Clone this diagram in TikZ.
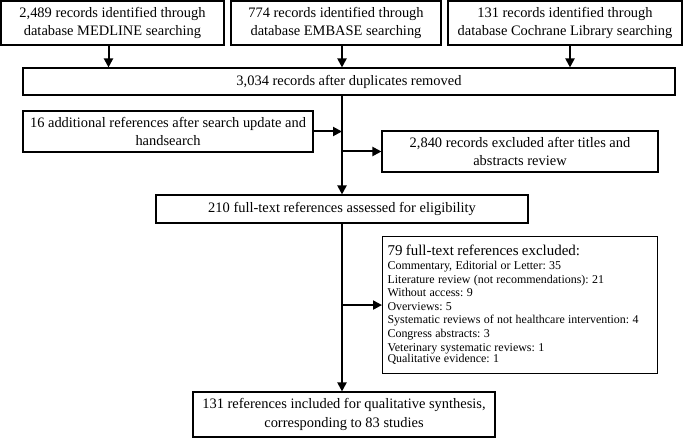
\documentclass[tikz,border=0pt]{standalone}
\usepackage{fontspec}
\setmainfont{Liberation Serif}
\usetikzlibrary{arrows.meta,positioning}

\tikzset{
  boite/.style={draw, line width=1.1bp, align=center, inner sep=0pt,
    font=\fontsize{14.5}{18.5}\selectfont},
  fleche/.style={line width=2bp, -{Triangle[length=9bp,width=9bp]}},
}

\begin{document}
\frenchspacing
\begin{tikzpicture}[x=1bp, y=-1bp]
  \useasboundingbox (0,0) rectangle (685,438);

  % Sources
  \node[boite, minimum width=223bp, minimum height=44bp] (medline) at (112.5,23)
    {2,489 records identified through\\database MEDLINE searching};
  \node[boite, minimum width=210bp, minimum height=44bp] (embase) at (336,23)
    {774 records identified through\\database EMBASE searching};
  \node[boite, minimum width=234bp, minimum height=44bp] (cochrane) at (565,23)
    {131 records identified through\\database Cochrane Library searching};

  % Doublons
  \node[boite, minimum width=652bp, minimum height=27bp] (doublons) at (349,81.5)
    {3,034 records after duplicates removed};

  % Tri
  \node[boite, minimum width=290bp, minimum height=41bp] (ajout) at (168,131.5)
    {16 additional references after search update and\\handsearch};
  \node[boite, minimum width=276bp, minimum height=41bp] (exclus) at (520,151.5)
    {2,840 records excluded after titles and\\abstracts review};
  \node[boite, minimum width=372bp, minimum height=28bp] (eligible) at (342,209)
    {210 full-text references assessed for eligibility};

  % Exclusions
  \node[draw, line width=1.1bp, anchor=north west, text width=265bp,
        minimum height=137bp, inner sep=5bp, align=left] (exclus2) at (382,236)
    {\fontsize{15}{16}\selectfont 79 full-text references excluded:\par\vspace{0.5pt}
     \fontsize{12}{13.6}\selectfont
     Commentary, Editorial or Letter: 35\\
     Literature review (not recommendations): 21\\
     Without access: 9\\
     Overviews: 5\\
     Systematic reviews of not healthcare intervention: 4\\
     Congress abstracts: 3\\
     Veterinary systematic reviews: 1\\
     Qualitative evidence: 1};

  % Inclus
  \node[boite, minimum width=302bp, minimum height=45bp] (inclus) at (344,414.5)
    {131 references included for qualitative synthesis,\\corresponding to 83 studies};

  % Fleches
  \draw[fleche] ([xshift=-4bp]medline.south) -- ([xshift=-4bp]medline.south |- doublons.north);
  \draw[fleche] (embase.south -| eligible.north) -- (eligible.north |- doublons.north);
  \draw[fleche] ([xshift=5bp]cochrane.south) -- ([xshift=5bp]cochrane.south |- doublons.north);
  \draw[fleche] (doublons.south -| eligible.north) -- (eligible.north);
  \draw[fleche] (ajout.east) -- (ajout.east -| eligible.north);
  \draw[fleche] (exclus.west -| eligible.north) -- (exclus.west);
  \draw[fleche] (eligible.south) -- (eligible.south |- inclus.north);
  \draw[fleche] (exclus2.west -| eligible.south) -- (exclus2.west);
\end{tikzpicture}
\end{document}
